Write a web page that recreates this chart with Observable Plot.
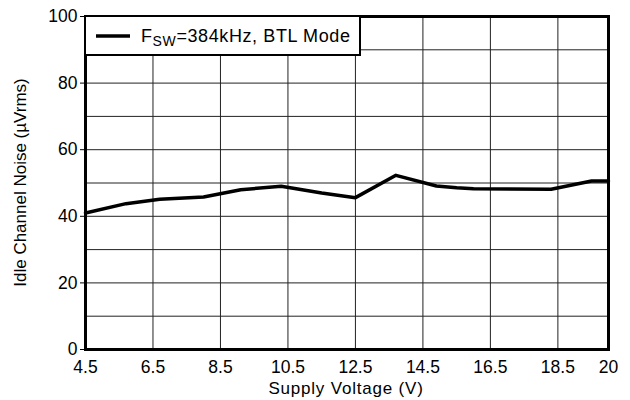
<!DOCTYPE html>
<html>
<head>
<meta charset="utf-8">
<script src="https://cdn.jsdelivr.net/npm/d3@7"></script>
<script src="https://cdn.jsdelivr.net/npm/@observablehq/plot@0.6"></script>
<style>
  body { margin: 0; background: #fff; }
  svg { font-family: "Liberation Sans", Arial, sans-serif; }
</style>
</head>
<body>
<div id="chart"></div>
<script>
const supplyVoltage = [4.5, 5.7, 6.7, 8.0, 9.1, 10.3, 11.5, 12.5, 13.7, 14.9, 15.5, 16.0, 18.3, 19.5, 20];
const noise = [41.0, 43.8, 45.1, 45.8, 48.0, 49.0, 47.0, 45.6, 52.3, 49.1, 48.6, 48.3, 48.1, 50.6, 50.6];
const xTicks = [4.5, 6.5, 8.5, 10.5, 12.5, 14.5, 16.5, 18.5, 20];
const yTicks = [0, 20, 40, 60, 80, 100];
const yGrid = [10, 20, 30, 40, 50, 60, 70, 80, 90];
const legendLabel = { main: "F", sub: "SW", rest: "=384kHz, BTL Mode" };
const xLabel = "Supply Voltage (V)";
const yLabel = "Idle Channel Noise (\u00b5Vrms)";

const data = supplyVoltage.map((v, i) => ({ v, n: noise[i] }));

const chart = Plot.plot({
  width: 630,
  height: 400,
  marginLeft: 85,
  marginRight: 22,
  marginTop: 16,
  marginBottom: 51,
  style: { fontFamily: "'Liberation Sans', Arial, sans-serif", fontSize: "17.5px", color: "#000", background: "#fff" },
  x: { domain: [4.5, 20], ticks: xTicks, tickFormat: d => String(d), tickSize: 0, tickPadding: 11, label: null },
  y: { domain: [0, 100], ticks: yTicks, tickSize: 5, tickPadding: 3, label: null },
  marks: [
    Plot.ruleX(xTicks.slice(1, -1), { stroke: "#222", strokeWidth: 1 }),
    Plot.ruleY(yGrid, { stroke: "#222", strokeWidth: 1 }),
    Plot.line(data, { x: "v", y: "n", stroke: "#000", strokeWidth: 3.5, strokeLinejoin: "round", curve: "linear" }),
    Plot.frame({ stroke: "#000", strokeWidth: 3 })
  ]
});
document.getElementById("chart").appendChild(chart);

const svg = d3.select(chart);
// axis titles
svg.append("text")
  .attr("x", 346).attr("y", 394)
  .attr("text-anchor", "middle")
  .attr("font-size", 17)
  .attr("letter-spacing", "0.8px")
  .attr("fill", "#000")
  .text(xLabel);
svg.append("text")
  .attr("transform", "translate(26,182.5) rotate(-90)")
  .attr("text-anchor", "middle")
  .attr("font-size", 17)
  .attr("fill", "#000")
  .text(yLabel);

// legend box
const lg = svg.append("g");
lg.append("rect")
  .attr("x", 85).attr("y", 16).attr("width", 275).attr("height", 39)
  .attr("fill", "#fff").attr("stroke", "#000").attr("stroke-width", 2);
lg.append("line")
  .attr("x1", 96).attr("x2", 130).attr("y1", 36).attr("y2", 36)
  .attr("stroke", "#000").attr("stroke-width", 3.5);
const t = lg.append("text")
  .attr("x", 141).attr("y", 42)
  .attr("text-anchor", "start")
  .attr("font-size", 18)
  .attr("letter-spacing", "0.6px")
  .attr("fill", "#000");
t.append("tspan").text(legendLabel.main);
t.append("tspan").attr("font-size", 14).attr("dy", 4).text(legendLabel.sub);
t.append("tspan").attr("dy", -4).text(legendLabel.rest);
</script>
</body>
</html>
